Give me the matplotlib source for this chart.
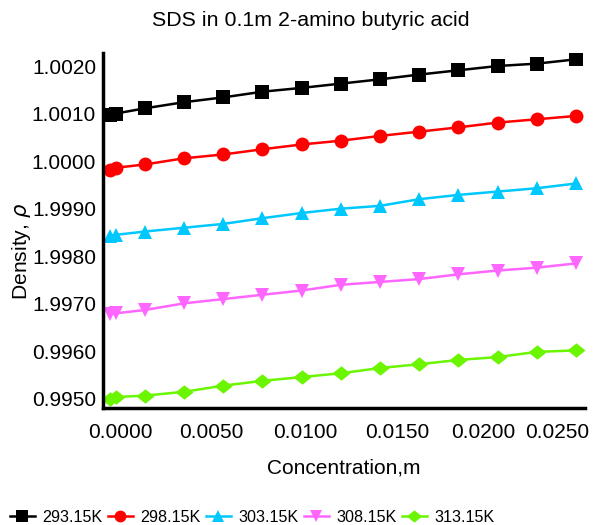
import matplotlib
matplotlib.use("Agg")
import matplotlib.pyplot as plt

plt.rcParams['font.family'] = ['Liberation Sans', 'DejaVu Sans']

# Data
conc = [0.0002, 0.0005, 0.002, 0.004, 0.006, 0.008, 0.010, 0.012,
        0.014, 0.016, 0.018, 0.020, 0.022, 0.024]
rho_29315 = [1.00098, 1.00100, 1.00111, 1.00124, 1.00134, 1.00146, 1.00154, 1.00163,
             1.00172, 1.00182, 1.00191, 1.00200, 1.00205, 1.00214]
rho_29815 = [0.99981, 0.99986, 0.99993, 1.00006, 1.00014, 1.00025, 1.00035, 1.00043,
             1.00053, 1.00062, 1.00071, 1.00081, 1.00088, 1.00095]
rho_30315 = [0.99842, 0.99845, 0.99852, 0.99860, 0.99868, 0.99880, 0.99891, 0.99900,
             0.99906, 0.99920, 0.99929, 0.99936, 0.99943, 0.99953]
rho_30815 = [0.99678, 0.99680, 0.99687, 0.99701, 0.99710, 0.99719, 0.99728, 0.99740,
             0.99746, 0.99752, 0.99762, 0.99770, 0.99776, 0.99785]
rho_31315 = [0.99500, 0.99504, 0.99507, 0.99515, 0.99528, 0.99538, 0.99546, 0.99554,
             0.99565, 0.99573, 0.99582, 0.99588, 0.99599, 0.99602]
series_labels = ['293.15K', '298.15K', '303.15K', '308.15K', '313.15K']

ytick_vals = [1.0020, 1.0010, 1.0000, 0.9990, 0.9980, 0.9970, 0.9960, 0.9950]
ytick_labels = ['1.0020', '1.0010', '1.0000', '1.9990', '1.9980', '1.9970', '0.9960', '0.9950']
xtick_pos = [0.00073, 0.00541, 0.01017, 0.01489, 0.01927, 0.02306]
xtick_labels = ['0.0000', '0.0050', '0.0100', '0.0150', '0.0200', '0.0250']

colors = ['#000000', '#ff0000', '#00c8ff', '#ff66ff', '#6cf500']
diamond = [(-1, 0), (0, 0.8), (1, 0), (0, -0.8), (-1, 0)]
markers = ['s', 'o', '^', 'v', diamond]
msizes = [9.5, 10, 10.5, 10.5, 13]

fig = plt.figure(figsize=(5.94, 5.25), dpi=100)
ax = fig.add_axes([0.1734, 0.2229, 0.8114, 0.6761])

all_series = [rho_29315, rho_29815, rho_30315, rho_30815, rho_31315]
for ys, lab, c, m, ms in zip(all_series, series_labels, colors, markers, msizes):
    ax.plot(conc, ys, color=c, marker=m, markersize=ms, linewidth=1.8,
            label=lab, markeredgewidth=0)

ax.set_xlim(-0.00014, 0.02446)
ax.set_ylim(0.99481, 1.002273)

ax.set_yticks(ytick_vals)
ax.set_yticklabels(ytick_labels)
ax.set_xticks(xtick_pos)
ax.set_xticklabels(xtick_labels)
ax.tick_params(axis='both', length=0, labelsize=15)
ax.tick_params(axis='y', pad=5)
ax.tick_params(axis='x', pad=11)

for s in ['top', 'right']:
    ax.spines[s].set_visible(False)
for s in ['left', 'bottom']:
    ax.spines[s].set_linewidth(2.5)

fig.text(311 / 594, 1 - 20 / 525, 'SDS in 0.1m 2-amino butyric acid',
         fontsize=15.4, ha='center', va='center')
ax.set_xlabel('Concentration,m', fontsize=15, labelpad=12)
ax.set_ylabel('Density, $\\it{\\rho}$', fontsize=15.2)
ax.yaxis.set_label_coords(-0.145, 0.44)

fig.legend(loc='lower left', bbox_to_anchor=(0.0, -0.018), ncol=5, frameon=False,
           prop={'family': 'Liberation Sans', 'size': 11.6},
           handlelength=1.55, handletextpad=0.5, columnspacing=0.3,
           borderaxespad=0.2, markerscale=0.85)

fig.savefig('out.png', dpi=100)
